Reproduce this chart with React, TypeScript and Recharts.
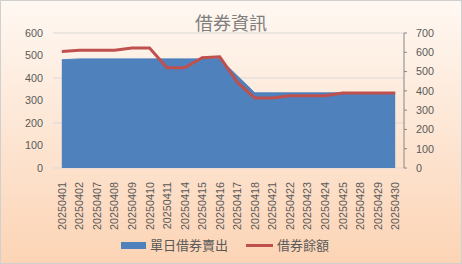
import { ComposedChart, Area, Line, XAxis, YAxis, CartesianGrid } from 'recharts';

const dates = [
  '20250401', '20250402', '20250407', '20250408', '20250409',
  '20250410', '20250411', '20250414', '20250415', '20250416',
  '20250417', '20250418', '20250421', '20250422', '20250423',
  '20250424', '20250425', '20250428', '20250429', '20250430',
];
// 單日借券賣出 (left axis)
const dailySales = [481, 485, 485, 485, 485, 485, 485, 485, 485, 486, 410, 334, 334, 334, 334, 334, 334, 334, 334, 334];
// 借券餘額 (right axis)
const balance = [604, 610, 610, 610, 622, 622, 520, 520, 572, 577, 445, 363, 363, 375, 375, 375, 389, 389, 389, 389];

const leftTicks = [0, 100, 200, 300, 400, 500, 600];
const rightTicks = [0, 100, 200, 300, 400, 500, 600, 700];
const boundaryTicks = dates.map((_, i) => i).concat([dates.length]);

const data = dates.map((d, i) => ({ date: d, sales: dailySales[i], balance: balance[i] }));

const GRAY = '#595959';
const FONT = '"Liberation Sans", Arial, sans-serif';
const CJK = '"Noto Sans CJK TC", "Noto Sans CJK SC", sans-serif';

function DateTick(props: any) {
  const { x, y, payload } = props;
  return (
    <text
      x={x}
      y={y}
      transform={`rotate(-90, ${x}, ${y})`}
      textAnchor="end"
      dominantBaseline="central"
      fill={GRAY}
      fontSize={10.8}
      fontFamily={FONT}
    >
      {payload.value}
    </text>
  );
}

export default function App() {
  return (
    <div
      style={{
        position: 'absolute',
        left: 0,
        top: 0,
        width: 460,
        height: 262,
        border: '1px solid #D0D0D0',
        background: 'linear-gradient(to bottom, #FFF8F2 0%, #FDE6D4 50%, #FCD4B5 100%)',
      }}
    >
      <div
        style={{
          position: 'absolute',
          top: 8,
          width: '100%',
          textAlign: 'center',
          fontFamily: CJK,
          fontSize: 18,
          color: '#7F7F7F',
          lineHeight: '26px',
        }}
      >
        借券資訊
      </div>
      <div style={{ position: 'absolute', left: -1, top: -1 }}>
        <ComposedChart
          width={462}
          height={264}
          data={data}
          margin={{ top: 33, right: 0, bottom: 30, left: 0 }}
        >
          <CartesianGrid vertical={false} stroke="#D9D9D9" />
          <XAxis
            xAxisId="bounds"
            type="number"
            domain={[0, dates.length]}
            ticks={boundaryTicks}
            tick={false}
            height={0}
            stroke="#BFBFBF"
            tickSize={4}
          />
          <XAxis
            dataKey="date"
            height={66}
            padding={{ left: 8.8, right: 8.8 }}
            axisLine={false}
            tickLine={false}
            interval={0}
            tick={<DateTick />}
            tickMargin={8}
          />
          <YAxis
            domain={[0, 600]}
            ticks={leftTicks}
            width={53}
            axisLine={false}
            tickLine={false}
            tickMargin={4}
            tick={{ fill: GRAY, fontSize: 10.8, fontFamily: FONT }}
          />
          <YAxis
            yAxisId="right"
            orientation="right"
            domain={[0, 700]}
            ticks={rightTicks}
            width={58}
            stroke="#868686"
            tickSize={3}
            tickMargin={9}
            tick={{ fill: GRAY, fontSize: 10.8, fontFamily: FONT }}
          />
          <Area
            dataKey="sales"
            type="linear"
            fill="#4F81BD"
            fillOpacity={1}
            stroke="#4F81BD"
            strokeWidth={1}
            isAnimationActive={false}
          />
          <Line
            dataKey="balance"
            yAxisId="right"
            type="linear"
            stroke="#C0504D"
            strokeWidth={3}
            dot={false}
            isAnimationActive={false}
          />
        </ComposedChart>
      </div>
      <div
        style={{
          position: 'absolute',
          top: 235,
          left: 120,
          display: 'flex',
          alignItems: 'center',
          fontFamily: CJK,
          fontSize: 13,
          color: GRAY,
          lineHeight: '18px',
        }}
      >
        <span style={{ display: 'inline-block', width: 25, height: 7, background: '#4F81BD', marginRight: 4 }} />
        <span>單日借券賣出</span>
        <span style={{ display: 'inline-block', width: 27, height: 3, background: '#C0504D', margin: '0 4px 0 18px' }} />
        <span>借券餘額</span>
      </div>
    </div>
  );
}
